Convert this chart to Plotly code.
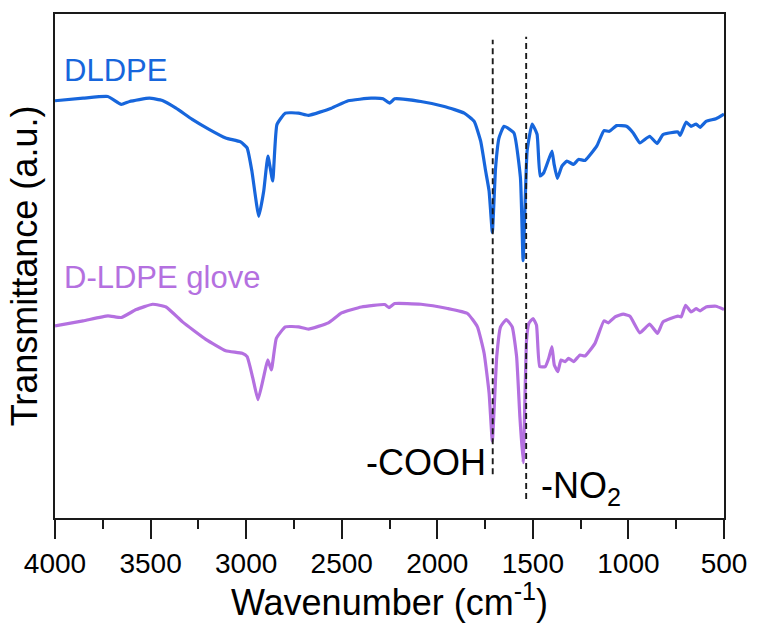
import plotly.graph_objects as go

# DLDPE (blue) spectrum: wavenumber (cm-1) and transmittance (a.u.)
dldpe_wn = [4000, 3853, 3724, 3653, 3610, 3506, 3438, 3367, 3282, 3194, 3107, 3029, 2995, 2970,
            2934, 2908, 2886, 2861, 2839, 2795, 2726, 2674, 2554, 2466, 2346, 2284, 2249, 2223,
            2086, 1963, 1859, 1807, 1773, 1747, 1729, 1712, 1695, 1677, 1651, 1599, 1565, 1551,
            1530, 1504, 1478, 1462, 1443, 1400, 1389, 1372, 1348, 1322, 1287, 1261, 1227, 1166,
            1128, 1100, 1062, 1010, 975, 940, 889, 850, 819, 741, 729, 698, 672, 646, 625, 594,
            542, 500]
dldpe_t = [419.7, 422.3, 424, 416, 419, 422.3, 420, 412.3, 401, 391, 382.3, 378.3, 372.3, 349,
           303.5, 329, 364, 339, 395.7, 407.3, 407.3, 405, 412.3, 419.7, 422.3, 421.7, 417.3, 421.7,
           419, 414, 407.3, 399, 379, 349, 329, 287.3, 352.3, 382.3, 394, 387.3, 342.3, 259,
           369, 396.3, 386, 344, 347.3, 369, 356, 341.7, 354, 359, 355.7, 360.7, 359.7, 374,
           389.7, 389, 394.7, 394, 387.3, 377.3, 384, 376.7, 385.7, 388.3, 385, 398.3, 394, 396.3, 393, 399,
           401.7, 406.3]

# D-LDPE glove (purple) spectrum
glove_wn = [4000, 3853, 3723, 3653, 3575, 3489, 3419, 3333, 3211, 3107, 3021, 2995, 2965, 2938,
            2908, 2887, 2868, 2842, 2795, 2726, 2674, 2570, 2501, 2397, 2275, 2253, 2223, 2085,
            1946, 1842, 1790, 1755, 1729, 1712, 1689, 1669, 1639, 1608, 1585, 1568, 1551, 1533,
            1521, 1499, 1481, 1464, 1435, 1417, 1400, 1388, 1369, 1353, 1331, 1313, 1287, 1253,
            1227, 1175, 1128, 1105, 1070, 1027, 992, 940, 889, 848, 819, 741, 724, 701, 672, 646,
            625, 594, 542, 500]
glove_t = [193.3, 198.3, 203.3, 201.7, 209.7, 215, 212.3, 197.3, 179.7, 168.3, 165.7, 162.3, 140.7, 119,
           142.3, 159, 149, 180.7, 192.3, 192.3, 190, 196.3, 206.3, 212.3, 214.7, 211.7, 215.7, 215,
           210.7, 205.7, 192.3, 165.7, 125.7, 77.3, 162.3, 192.3, 199.7, 192.3, 162.3, 102.3, 55.7, 179,
           195.7, 200.7, 194, 152.3, 152.3, 160.7, 172.3, 154, 147.3, 159, 157.3, 160.7, 157.3, 164,
           163, 175.7, 198.3, 196.3, 202.3, 205, 203, 186.3, 195, 185.7, 197.3, 203, 202.3, 214, 207.3, 210.7,
           208.3, 212.3, 213, 209.7]

# Marker lines (wavenumber, y start, y end)
cooh_line = [1710, 44, 481]
no2_line = [1535, 19, 484]

x_ticks = [4000, 3500, 3000, 2500, 2000, 1500, 1000, 500]
x_minor = [3750, 3250, 2750, 2250, 1750, 1250, 750]

BLUE = "#1766dc"
PURPLE = "#b470e0"
FONT = "Liberation Sans, Arial, sans-serif"

fig = go.Figure()
fig.add_trace(go.Scatter(x=dldpe_wn, y=dldpe_t, mode="lines",
                         line=dict(color=BLUE, width=3.2, shape="spline", smoothing=0.4),
                         showlegend=False))
fig.add_trace(go.Scatter(x=glove_wn, y=glove_t, mode="lines",
                         line=dict(color=PURPLE, width=3.2, shape="spline", smoothing=0.4),
                         showlegend=False))
for ln in (cooh_line, no2_line):
    fig.add_trace(go.Scatter(x=[ln[0], ln[0]], y=[ln[1], ln[2]], mode="lines",
                             line=dict(color="#1a1a1a", width=1.9, dash="6px,4px"),
                             showlegend=False))

fig.add_annotation(x=3965, y=450, text="DLDPE", showarrow=False, xanchor="left", yanchor="middle",
                   font=dict(size=31, color=BLUE, family=FONT))
fig.add_annotation(x=3965, y=242, text="D-LDPE glove", showarrow=False, xanchor="left", yanchor="middle",
                   font=dict(size=31, color=PURPLE, family=FONT))
fig.add_annotation(x=1735, y=56, text="-COOH", showarrow=False, xanchor="right", yanchor="middle",
                   font=dict(size=36, color="black", family=FONT))
fig.add_annotation(x=1467, y=30, text="-NO<sub>2</sub>", showarrow=False, xanchor="left", yanchor="middle",
                   font=dict(size=36, color="black", family=FONT))

fig.update_layout(
    width=759, height=623,
    margin=dict(l=55, r=31, t=12, b=104),
    paper_bgcolor="white", plot_bgcolor="white",
    font=dict(family=FONT, color="black"),
    xaxis=dict(range=[4000, 500], tickvals=x_ticks, ticktext=[str(v) for v in x_ticks],
               ticks="outside", ticklen=19, tickwidth=2, tickcolor="#1a1a1a",
               minor=dict(tickvals=x_minor, ticks="outside",
                          ticklen=9, tickwidth=2, tickcolor="#1a1a1a"),
               showline=True, linewidth=2, linecolor="#1a1a1a", mirror=True,
               showgrid=False, zeroline=False,
               tickfont=dict(size=28, family=FONT),
               title=dict(text="Wavenumber (cm<sup>-1</sup>)", font=dict(size=36, family=FONT), standoff=7)),
    yaxis=dict(range=[0, 507], showticklabels=False, ticks="",
               showline=True, linewidth=2, linecolor="#1a1a1a", mirror=True,
               showgrid=False, zeroline=False,
               title=dict(text="Transmittance (a.u.)", font=dict(size=36, family=FONT), standoff=4)),
)

fig.write_html("out.html")
